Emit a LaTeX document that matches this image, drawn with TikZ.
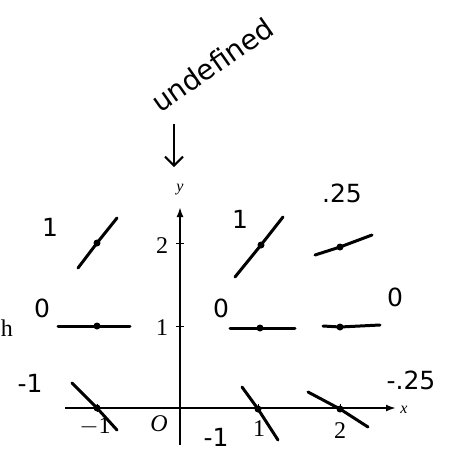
\documentclass[tikz,border=0pt]{standalone}
\usepackage{fontspec}
\setmainfont{Liberation Serif}
\newfontfamily\hand{DejaVu Sans}
\usetikzlibrary{arrows.meta}
\begin{document}
\begin{tikzpicture}[x=1pt,y=-1pt,
  axis/.style={line width=2pt,-{Latex[length=10pt,width=7pt]}},
  slope/.style={line width=3pt,line cap=round},
  dotmark/.style={circle,fill,inner sep=0pt,minimum size=7pt},
  tickmark/.style={line width=0.8pt},
  printlbl/.style={font=\fontsize{24}{24}\selectfont},
  axlbl/.style={font=\fontsize{16}{16}\selectfont\itshape},
  handlbl/.style={font=\hand\fontsize{25}{25}\selectfont}]
\useasboundingbox (0,0) rectangle (456,451);
% axes
\coordinate (xs) at (65,408);
\coordinate (xe) at (396,408);
\coordinate (ys) at (180,445);
\coordinate (ye) at (180,207);
\draw[axis] (xs) -- (xe);
\draw[axis] (ys) -- (ye);
\node[axlbl] (xl) at (404,410) {x};
\node[axlbl] (yl) at (180,190) {y};
% ticks
\draw[tickmark] (97,404) -- (97,412);
\draw[tickmark] (258,404) -- (258,412);
\draw[tickmark] (340,404) -- (340,412);
\draw[tickmark] (176,243) -- (184,243);
\draw[tickmark] (176,326) -- (184,326);
% tick labels
\node[printlbl] (lm1) at (95,427) {$-$1};
\node[printlbl] (l1x) at (259,429) {1};
\node[printlbl] (l2x) at (340,431) {2};
\node[printlbl] (l1y) at (162,328) {1};
\node[printlbl] (l2y) at (162,246) {2};
\node[printlbl,font=\fontsize{24}{24}\selectfont\itshape] (lo) at (159,424) {O};
\node[printlbl,anchor=east,inner sep=0pt] (lh) at (13,328) {h};
% slope field
\coordinate (d1) at (97,243);
\coordinate (d2) at (97,326);
\coordinate (d3) at (97,408);
\coordinate (d4) at (261,245);
\coordinate (d5) at (260,328);
\coordinate (d6) at (258,409);
\coordinate (d7) at (340,247);
\coordinate (d8) at (340,327);
\coordinate (d9) at (340,409);
\draw[slope] (78,268) -- (d1) -- (117,218);
\draw[slope] (58,326) -- (d2) -- (130,326);
\draw[slope] (72,383) -- (d3) -- (117,430);
\draw[slope] (235,277) -- (d4) -- (283,217);
\draw[slope] (230,328) -- (d5) -- (295,328);
\draw[slope] (242,387) -- (d6) -- (278,440);
\draw[slope] (315,255) -- (d7) -- (372,235);
\draw[slope] (323,326) -- (d8) -- (380,325);
\draw[slope] (308,392) -- (d9) -- (368,427);
\foreach \d in {d1,d2,d3,d4,d5,d6,d7,d8,d9} \node[dotmark] at (\d) {};
% handwritten values
\node[handlbl] (h1) at (50,227) {1};
\node[handlbl] (h2) at (240,219) {1};
\node[handlbl] (h3) at (342,193) {.25};
\node[handlbl] (h4) at (42,308) {0};
\node[handlbl] (h5) at (221,308) {0};
\node[handlbl] (h6) at (395,297) {0};
\node[handlbl] (h7) at (30,383) {-1};
\node[handlbl] (h8) at (216,437) {-1};
\node[handlbl] (h9) at (411,380) {-.25};
% undefined annotation
\node[handlbl,rotate=35,font=\hand\fontsize{28}{28}\selectfont] (und) at (212,65) {undefined};
\coordinate (arrs) at (174,124);
\coordinate (arre) at (174,167);
\draw[line width=2pt,-{Straight Barb[length=9pt,width=18pt]}] (arrs) -- (arre);
\end{tikzpicture}
\end{document}
